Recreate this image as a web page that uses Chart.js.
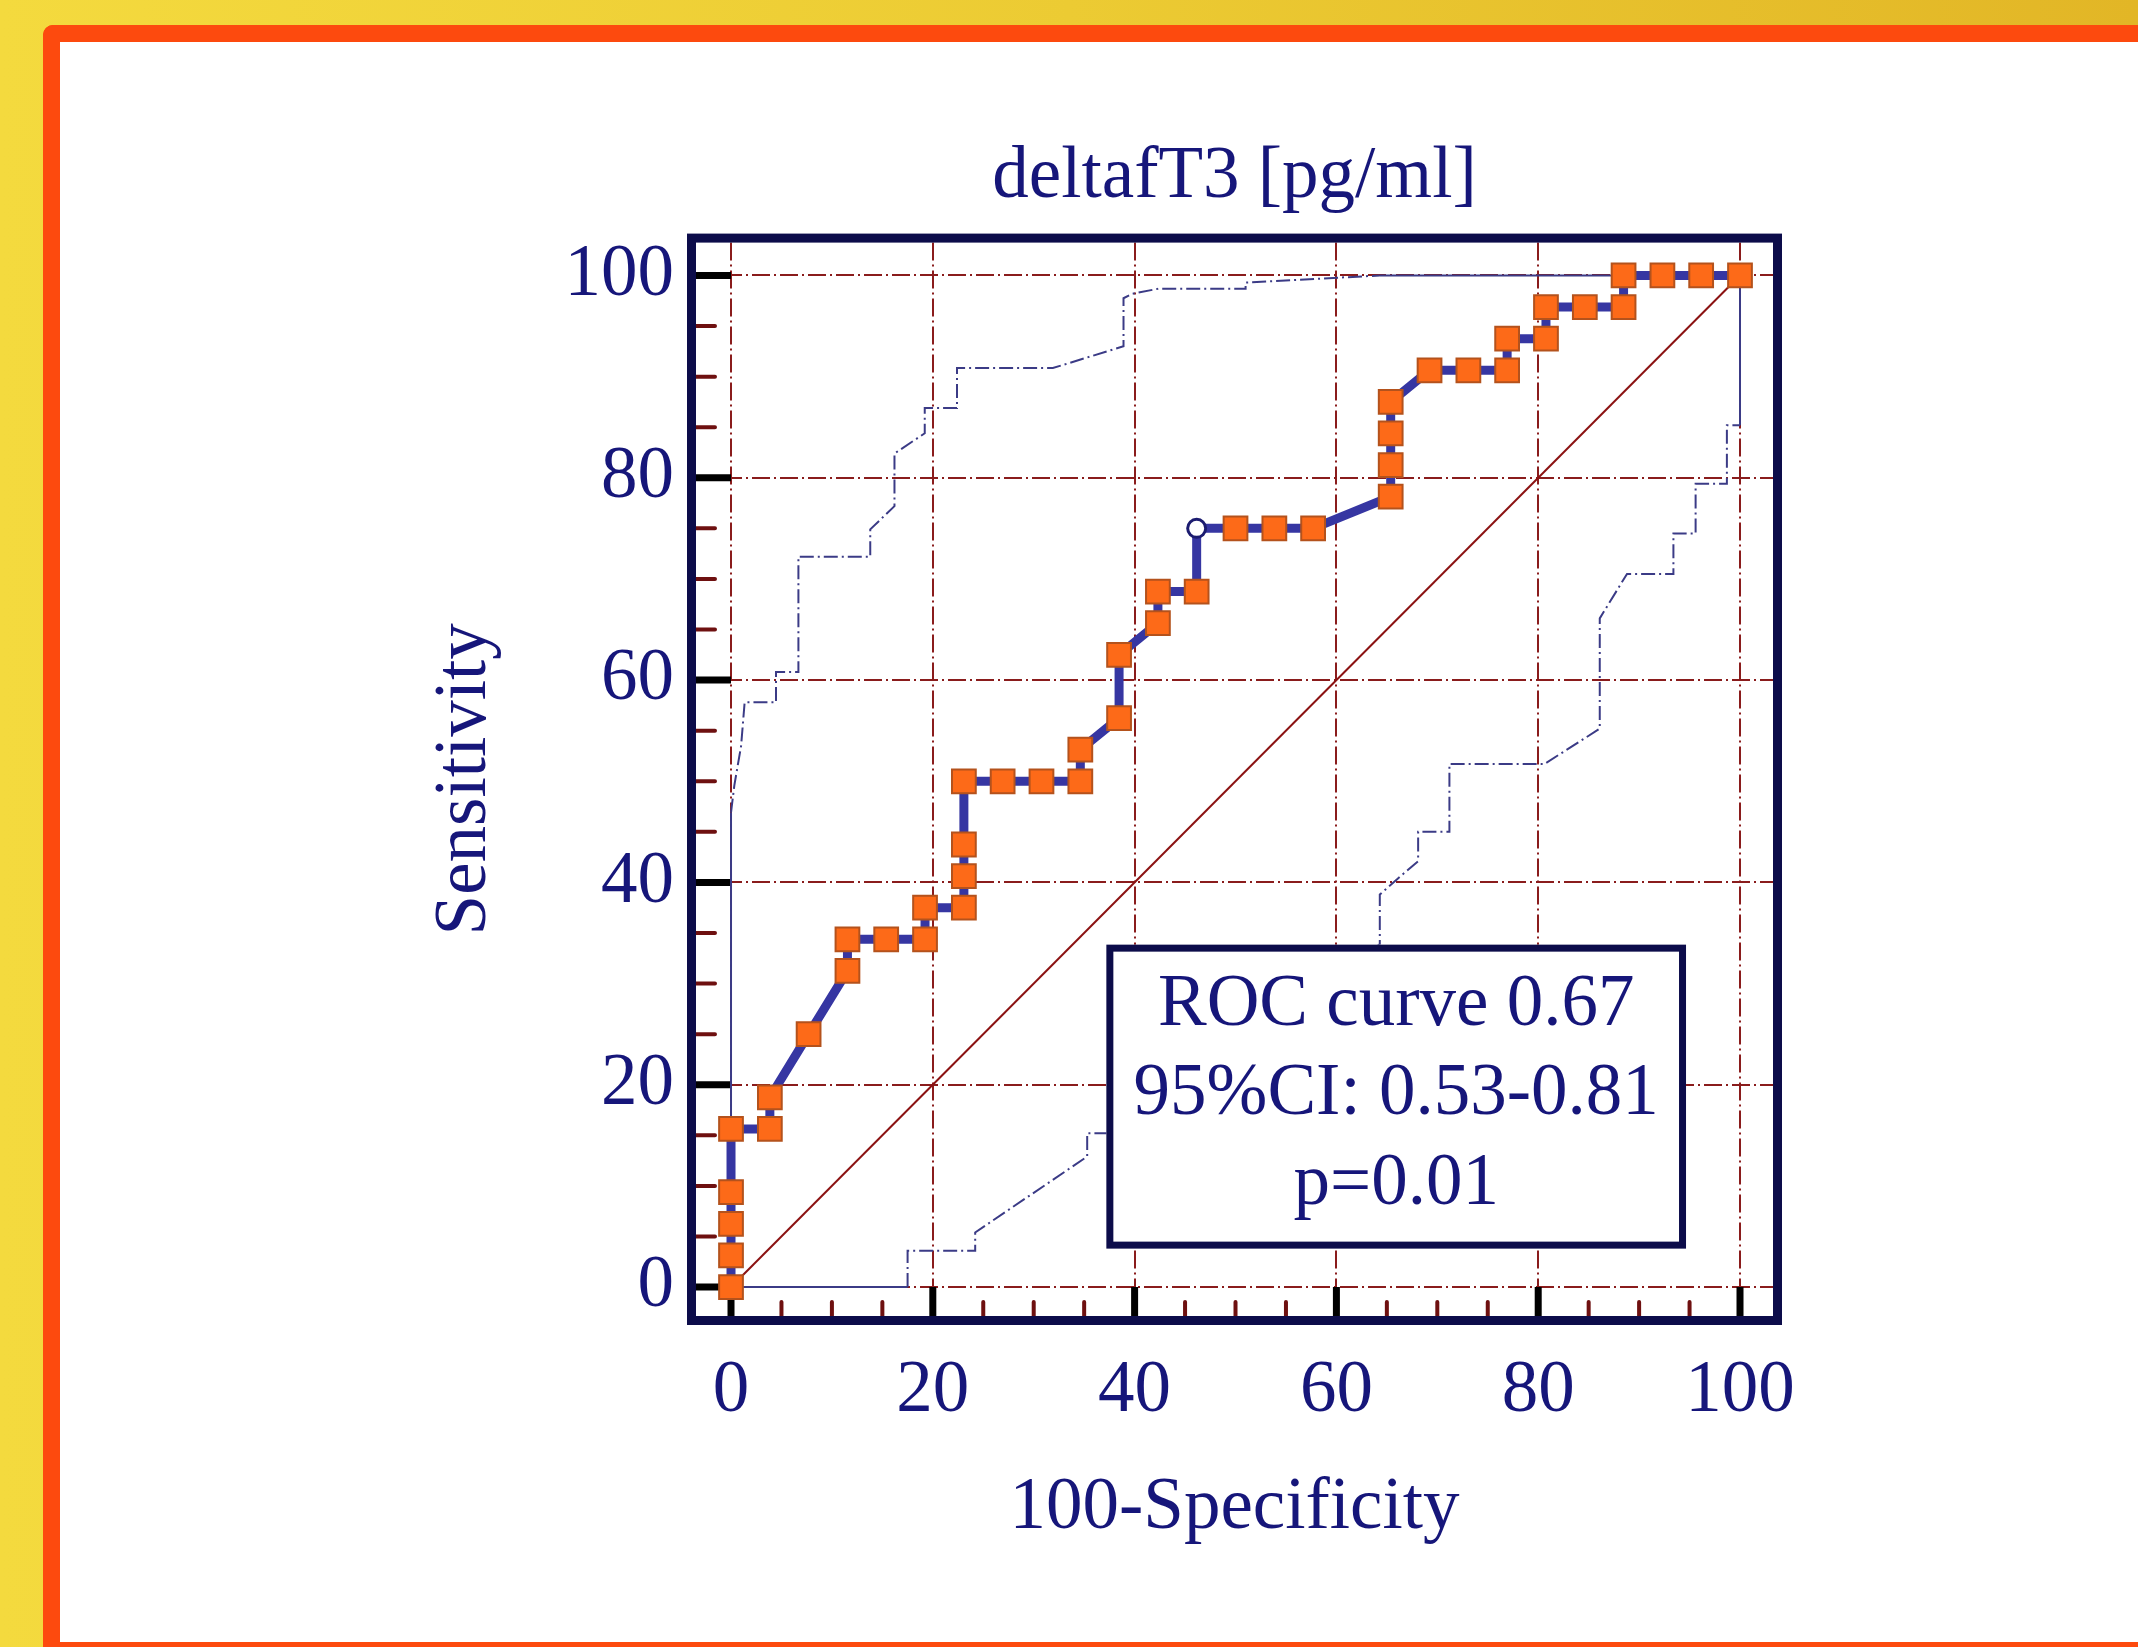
<!DOCTYPE html>
<html lang="en">
<head>
  <meta charset="UTF-8">
  <title>deltafT3 ROC curve</title>
  <style>
    body {
      margin: 0;
      width: 2138px;
      height: 1647px;
      overflow: hidden;
      position: relative;
      background: linear-gradient(90deg, #f4da3e 0%, #eccb33 50%, #e2b626 100%);
    }
    .slide {
      position: absolute;
      left: 43px;
      top: 25px;
      width: 2200px;
      height: 1600px;
      border: 17px solid #fd4a0e;
      border-right: none;
      border-top-left-radius: 10px;
      background: #fff;
    }
    canvas {
      position: absolute;
      left: 60px;
      top: 42px;
    }
  </style>
</head>
<body>
  <div class="slide"></div>
  <canvas id="rocChart" width="2078" height="1600"></canvas>

  <script src="https://cdn.jsdelivr.net/npm/chart.js"></script>
  <script>
    // ROC curve (100-Specificity vs Sensitivity)
    const rocX = [0, 0, 0, 0, 0, 3.85, 3.85, 7.69, 11.54, 11.54, 15.38, 19.23, 19.23, 23.08, 23.08, 23.08, 23.08,
      26.92, 30.77, 34.62, 34.62, 38.46, 38.46, 42.31, 42.31, 46.15, 46.15, 50, 53.85, 57.69, 65.38, 65.38, 65.38,
      65.38, 69.23, 73.08, 76.92, 76.92, 80.77, 80.77, 84.62, 88.46, 88.46, 92.31, 96.15, 100];
    const rocY = [0, 3.13, 6.25, 9.38, 15.63, 15.63, 18.75, 25, 31.25, 34.38, 34.38, 34.38, 37.5, 37.5, 40.63, 43.75, 50,
      50, 50, 50, 53.13, 56.25, 62.5, 65.63, 68.75, 68.75, 75, 75, 75, 75, 78.13, 81.25, 84.38,
      87.5, 90.63, 90.63, 90.63, 93.75, 93.75, 96.88, 96.88, 96.88, 100, 100, 100, 100];
    const cutoffIndex = 26;

    // 95% confidence bounds
    const upperX = [0, 0, 0.33, 1.0, 1.35, 4.46, 4.46, 6.68, 6.68, 13.8, 13.8, 16.2, 16.2, 19.2, 19.2, 22.4, 22.4,
      31.9, 38.9, 38.9, 39.8, 42.4, 51.0, 51.0, 64.3, 100];
    const upperY = [0, 46.9, 49.6, 53.5, 57.8, 57.8, 60.8, 60.8, 72.2, 72.2, 74.9, 77.2, 82.4, 84.4, 86.9, 86.9, 90.85,
      90.85, 93.0, 97.75, 98.2, 98.7, 98.7, 99.3, 100, 100];
    const lowerX = [0, 17.5, 17.5, 24.2, 24.2, 35.3, 35.3, 37.4, 48, 56, 64.3, 64.3, 66.1, 68.1, 68.1, 71.2, 71.2,
      80.6, 86.1, 86.1, 88.8, 93.4, 93.4, 95.6, 95.6, 98.7, 98.7, 100, 100];
    const lowerY = [0, 0, 3.6, 3.6, 5.4, 12.9, 15.2, 15.2, 21, 27, 33.9, 38.8, 40.4, 42.1, 45.0, 45.0, 51.7,
      51.7, 55.2, 66.1, 70.5, 70.5, 74.5, 74.5, 79.4, 79.4, 85.2, 85.2, 100];

    // reference diagonal
    const diagX = [0, 100];
    const diagY = [0, 100];

    const xTicks = [0, 20, 40, 60, 80, 100];
    const yTicks = [0, 20, 40, 60, 80, 100];
    const statLines = ['ROC curve 0.67', '95%CI: 0.53-0.81', 'p=0.01'];

    const navy = '#16167a';
    const serif = "'Liberation Serif', 'Times New Roman', serif";
    const pts = (xs, ys) => xs.map((v, i) => ({ x: v, y: ys[i] }));
    const ciDash = n => ctx => (ctx.p0DataIndex === 0 || ctx.p1DataIndex === n - 1) ? [] : [14, 4, 2, 4];

    // frame, inner ticks and the statistics box
    const decor = {
      id: 'decor',
      beforeDatasetsDraw(chart) {
        const { ctx, chartArea: a, scales: { x, y } } = chart;
        ctx.save();
        for (let v = 0; v <= 100; v += 5) {
          const major = v % 20 === 0;
          const px = x.getPixelForValue(v), py = y.getPixelForValue(v);
          ctx.strokeStyle = major ? '#000' : '#6e1010';
          ctx.lineWidth = major ? 7 : 4;
          ctx.lineCap = major ? 'butt' : 'round';
          ctx.beginPath();
          ctx.moveTo(a.left, py);
          ctx.lineTo(major ? x.getPixelForValue(0) : a.left + 19, py);
          ctx.moveTo(px, a.bottom);
          ctx.lineTo(px, major ? y.getPixelForValue(0) : a.bottom - 14);
          ctx.stroke();
        }
        ctx.restore();
      },
      afterDatasetsDraw(chart) {
        const { ctx, chartArea: a, scales: { x, y } } = chart;
        ctx.save();
        // statistics box
        const bl = x.getPixelForValue(37.2), br = x.getPixelForValue(94.65);
        const bt = y.getPixelForValue(33.85), bb = y.getPixelForValue(3.8);
        ctx.fillStyle = '#fff';
        ctx.fillRect(bl, bt, br - bl, bb - bt);
        ctx.strokeStyle = '#0c0c4a';
        ctx.lineWidth = 7;
        ctx.strokeRect(bl + 3.5, bt + 3.5, br - bl - 7, bb - bt - 7);
        ctx.fillStyle = navy;
        ctx.font = '73px ' + serif;
        ctx.textAlign = 'center';
        ctx.textBaseline = 'middle';
        statLines.forEach((t, i) => ctx.fillText(t, (bl + br) / 2, bt + 61 + i * 89.5));
        // plot frame
        ctx.lineWidth = 9;
        ctx.strokeRect(a.left - 4.5, a.top - 4.5, a.width + 9, a.height + 9);
        ctx.restore();
      }
    };

    new Chart(document.getElementById('rocChart'), {
      type: 'scatter',
      data: {
        datasets: [
          {
            label: 'Criterion',
            data: [{ x: rocX[cutoffIndex], y: rocY[cutoffIndex] }],
            pointStyle: 'circle',
            pointRadius: 9,
            backgroundColor: '#fff',
            borderColor: '#1c1c70',
            borderWidth: 3,
            order: 0
          },
          {
            label: 'ROC',
            data: pts(rocX, rocY),
            showLine: true,
            borderColor: '#3636a2',
            borderWidth: 9,
            pointStyle: 'rect',
            pointRadius: ctx => ctx.dataIndex === cutoffIndex ? 0 : 16.8,
            pointBackgroundColor: '#fd6a18',
            pointBorderColor: '#b4521c',
            pointBorderWidth: 2,
            order: 1
          },
          {
            label: 'Upper CI',
            data: pts(upperX, upperY),
            showLine: true,
            borderColor: '#3b3b86',
            borderWidth: 2,
            pointRadius: 0,
            segment: { borderDash: ciDash(upperX.length) },
            order: 2
          },
          {
            label: 'Lower CI',
            data: pts(lowerX, lowerY),
            showLine: true,
            borderColor: '#3b3b86',
            borderWidth: 2,
            pointRadius: 0,
            segment: { borderDash: ciDash(lowerX.length) },
            order: 2
          },
          {
            label: 'Diagonal',
            data: pts(diagX, diagY),
            showLine: true,
            borderColor: '#8b1212',
            borderWidth: 2,
            pointRadius: 0,
            order: 3
          }
        ]
      },
      options: {
        responsive: false,
        devicePixelRatio: 1,
        animation: false,
        events: [],
        layout: { padding: { left: 0, right: 365, top: 92, bottom: 0 } },
        font: { family: serif },
        plugins: {
          legend: { display: false },
          tooltip: { enabled: false },
          title: {
            display: true,
            text: 'deltafT3 [pg/ml]',
            color: navy,
            fullSize: false,
            font: { family: serif, size: 73, weight: 'normal' },
            padding: { top: 0, bottom: 21 }
          }
        },
        scales: {
          x: {
            type: 'linear',
            min: -3.47,
            max: 103.27,
            afterBuildTicks: s => { s.ticks = xTicks.map(v => ({ value: v })); },
            afterFit: s => { s.height = 326; },
            ticks: { color: navy, font: { family: serif, size: 73 }, padding: 32, maxRotation: 0, autoSkip: false },
            grid: { color: '#8a1c1c', lineWidth: 2, drawTicks: false },
            border: { display: false, dash: [18, 4, 2, 4] },
            title: {
              display: true,
              text: '100-Specificity',
              color: navy,
              font: { family: serif, size: 73 },
              padding: { top: 0, bottom: 89 }
            }
          },
          y: {
            type: 'linear',
            min: -2.86,
            max: 103.25,
            afterBuildTicks: s => { s.ticks = yTicks.map(v => ({ value: v })); },
            afterFit: s => { s.width = 636; },
            ticks: { color: navy, font: { family: serif, size: 73 }, padding: 22, autoSkip: false },
            grid: { color: '#8a1c1c', lineWidth: 2, drawTicks: false },
            border: { display: false, dash: [18, 4, 2, 4] },
            title: {
              display: true,
              text: 'Sensitivity',
              color: navy,
              font: { family: serif, size: 73 },
              padding: { top: 362, bottom: 0 }
            }
          }
        }
      },
      plugins: [decor]
    });
  </script>
</body>
</html>
